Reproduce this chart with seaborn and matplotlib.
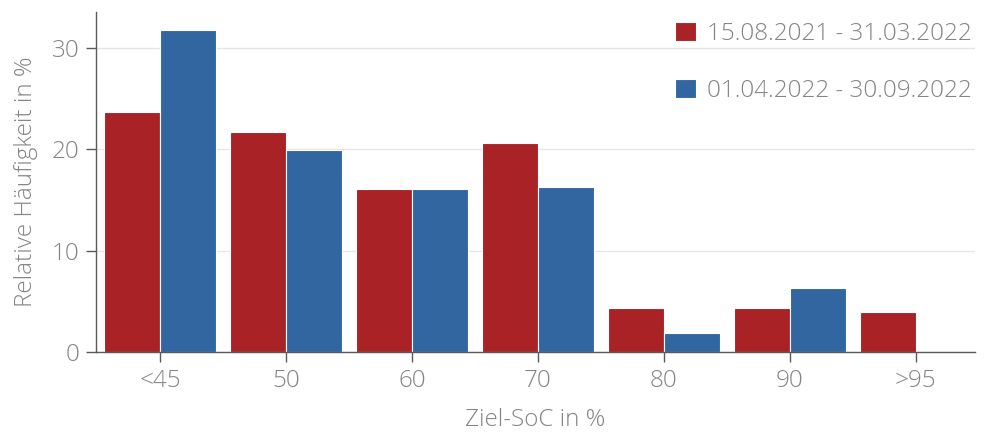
import matplotlib
matplotlib.use('Agg')
import matplotlib.pyplot as plt
import pandas as pd
import seaborn as sns

# ---------------------------
# Data
# ---------------------------
categories = ["<45", "50", "60", "70", "80", "90", ">95"]
period_1 = "15.08.2021 - 31.03.2022"
period_2 = "01.04.2022 - 30.09.2022"
values_1 = [23.6, 21.7, 16.1, 20.6, 4.3, 4.3, 3.95]
values_2 = [31.7, 19.9, 16.1, 16.3, 1.9, 6.35, 0.0]

df = pd.DataFrame({
    "Ziel-SoC": categories * 2,
    "Zeitraum": [period_1] * len(categories) + [period_2] * len(categories),
    "Wert": values_1 + values_2,
})

# ---------------------------
# Style
# ---------------------------
sns.set_theme(style="white")
plt.rcParams['font.family'] = ['Open Sans', 'DejaVu Sans']
plt.rcParams['font.weight'] = 'light'
plt.rcParams['axes.labelweight'] = 'light'

red = "#A82226"
blue = "#3266A0"
text_gray = "#858585"
axis_gray = "#5a5a5a"
fs = 17.5

fig = plt.figure(figsize=(9.84, 4.34), dpi=100)
ax = fig.add_axes([96 / 984, 82 / 434, 879 / 984, 340 / 434])

sns.barplot(
    data=df,
    x="Ziel-SoC",
    y="Wert",
    hue="Zeitraum",
    palette=[red, blue],
    width=0.89,
    saturation=1,
    edgecolor="white",
    linewidth=0.8,
    ax=ax,
)

ax.set_xlim(-0.51, 6.47)
ax.set_ylim(0, 33.5)
ax.set_yticks([0, 10, 20, 30])
ax.yaxis.grid(True, color="#e6e6e6", linewidth=1)
ax.set_axisbelow(True)

for side in ["top", "right"]:
    ax.spines[side].set_visible(False)
for side in ["left", "bottom"]:
    ax.spines[side].set_color(axis_gray)
    ax.spines[side].set_linewidth(1)

ax.tick_params(axis="both", direction="out", length=7, width=1,
               color=axis_gray, labelcolor=text_gray, labelsize=fs, pad=5)
ax.tick_params(axis="x", bottom=True)
ax.tick_params(axis="y", left=True)

ax.set_xlabel("Ziel-SoC in %", fontsize=fs, color=text_gray,
              fontweight="light", labelpad=11)
ax.set_ylabel("Relative Häufigkeit in %", fontsize=fs, color=text_gray,
              fontweight="light", labelpad=10)

leg = ax.legend(
    loc="upper right",
    bbox_to_anchor=(1.021, 1.035),
    frameon=False,
    prop={"size": fs, "weight": "light"},
    handlelength=0.85,
    handleheight=0.85,
    handletextpad=0.45,
    labelspacing=1.35,
)
for t in leg.get_texts():
    t.set_color(text_gray)

fig.savefig("out.png", dpi=100)
plt.close(fig)
